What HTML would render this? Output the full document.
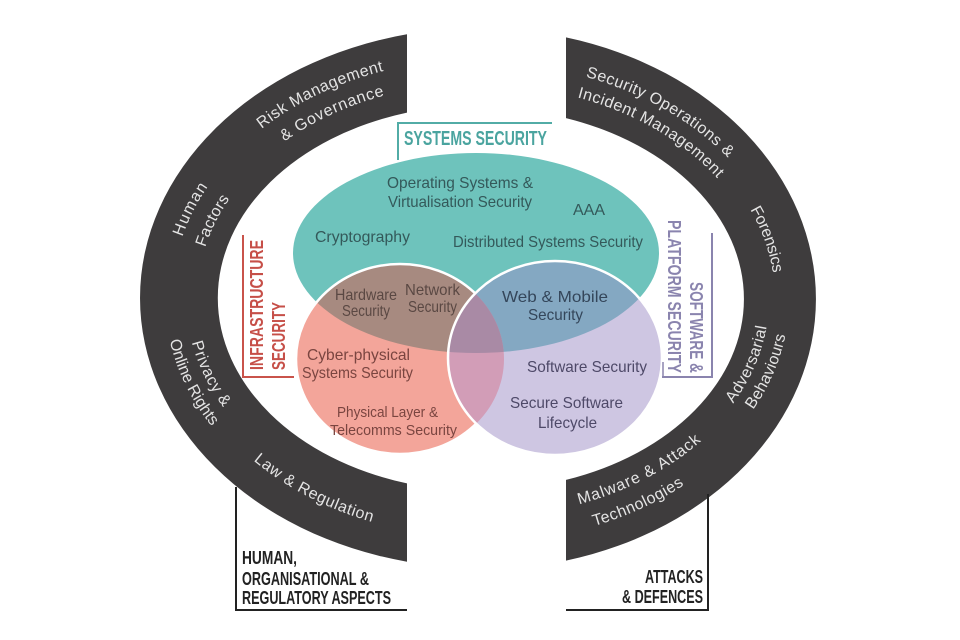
<!DOCTYPE html>
<html><head><meta charset="utf-8"><style>
html,body{margin:0;padding:0;background:#fff;}
svg{display:block;}
.arc{font-family:"Liberation Sans",sans-serif;font-size:16px;fill:#e4e4e4;}
.v{font-family:"Liberation Sans",sans-serif;font-size:16px;}
.b{font-family:"Liberation Sans Narrow","Liberation Sans",sans-serif;font-weight:bold;}
</style></head><body>
<svg width="960" height="640" viewBox="0 0 960 640" xmlns="http://www.w3.org/2000/svg">
<defs>
<clipPath id="cr"><ellipse cx="400" cy="359" rx="104" ry="95"/></clipPath>
<clipPath id="cp"><ellipse cx="555" cy="358" rx="107" ry="97"/></clipPath>
<path id="p1" d="M231.6,155.8 A309,239 0 0 1 423.7,63"/>
<path id="p2" d="M249.4,171.6 A285,215 0 0 1 430.5,86.3"/>
<path id="p3" d="M172.1,303 A308,238 0 0 1 254,136.3"/>
<path id="p4" d="M197.2,305.4 A283,213 0 0 1 269.7,155.5"/>
<path id="p5" d="M186.2,289 A294,224 0 0 0 260.5,447"/>
<path id="p6" d="M165.2,290.3 A315,245 0 0 0 246.6,462.6"/>
<path id="p7" d="M222.9,430.6 A309,239 0 0 0 414.2,531.5"/>
<path id="p8" d="M560.9,70.9 A307,236 0 0 1 744.9,177.1"/>
<path id="p9" d="M560.5,93.3 A285,214 0 0 1 728.8,192"/>
<path id="p10" d="M716.9,166.3 A293,222 0 0 1 772.6,327.2"/>
<path id="p11" d="M703.4,436.4 A287,216 0 0 0 768.1,282"/>
<path id="p12" d="M717.9,450.1 A307,236 0 0 0 788.2,281.7"/>
<path id="p13" d="M547.5,511.3 A289,218 0 0 0 724.6,417.4"/>
<path id="p14" d="M532.2,538.9 A314,243 0 0 0 733.4,444.6"/>
</defs>

<!-- dark arcs -->
<path d="M407,34.3 A340,270 0 0 0 407,561.7 L407,483.4 A262,193 0 0 1 407,112.6 Z" fill="#3e3c3d"/>
<path d="M566,37.4 A334,270.3 0 0 1 566,560.6 L566,479.9 A262,191 0 0 0 566,118.1 Z" fill="#3e3c3d"/>

<!-- arc labels -->
<g class="arc" text-anchor="middle">
<text letter-spacing="0.5"><textPath href="#p1" startOffset="50%">Risk Management</textPath></text>
<text letter-spacing="0.75"><textPath href="#p2" startOffset="50%">&amp; Governance</textPath></text>
<text letter-spacing="1.2"><textPath href="#p3" startOffset="50%">Human</textPath></text>
<text letter-spacing="0.2"><textPath href="#p4" startOffset="50%">Factors</textPath></text>
<text letter-spacing="0.6"><textPath href="#p5" startOffset="50%">Privacy &amp;</textPath></text>
<text><textPath href="#p6" startOffset="50%">Online Rights</textPath></text>
<text letter-spacing="0.6"><textPath href="#p7" startOffset="50%">Law &amp; Regulation</textPath></text>
<text letter-spacing="0.5"><textPath href="#p8" startOffset="50%">Security Operations &amp;</textPath></text>
<text letter-spacing="0.55"><textPath href="#p9" startOffset="50%">Incident Management</textPath></text>
<text letter-spacing="-0.2"><textPath href="#p10" startOffset="50%">Forensics</textPath></text>
<text letter-spacing="0.45"><textPath href="#p11" startOffset="50%">Adversarial</textPath></text>
<text letter-spacing="0.2"><textPath href="#p12" startOffset="50%">Behaviours</textPath></text>
<text letter-spacing="1.0"><textPath href="#p13" startOffset="50%">Malware &amp; Attack</textPath></text>
<text letter-spacing="0.5"><textPath href="#p14" startOffset="50%">Technologies</textPath></text>
</g>

<!-- venn -->
<ellipse cx="476" cy="253" rx="183" ry="100" fill="#6ec3bc"/>
<ellipse cx="400" cy="359" rx="104" ry="95" fill="#f3a59a"/>
<ellipse cx="476" cy="253" rx="183" ry="100" fill="#a78a80" clip-path="url(#cr)"/>
<ellipse cx="400" cy="359" rx="104" ry="95" fill="none" stroke="#fff" stroke-width="2.5"/>
<ellipse cx="555" cy="358" rx="107" ry="97" fill="#cec6e2"/>
<ellipse cx="476" cy="253" rx="183" ry="100" fill="#84a8c2" clip-path="url(#cp)"/>
<ellipse cx="400" cy="359" rx="104" ry="95" fill="#d29db7" clip-path="url(#cp)"/>
<g clip-path="url(#cp)"><ellipse cx="476" cy="253" rx="183" ry="100" fill="#a98aa5" clip-path="url(#cr)"/></g>
<ellipse cx="555" cy="358" rx="107" ry="97" fill="none" stroke="#fff" stroke-width="2.5"/>

<!-- venn texts -->
<g class="v" fill="#34595a">
<text x="387" y="188" textLength="146" lengthAdjust="spacingAndGlyphs">Operating Systems &amp;</text>
<text x="388" y="207" textLength="144" lengthAdjust="spacingAndGlyphs">Virtualisation Security</text>
<text x="573" y="215" textLength="32" lengthAdjust="spacingAndGlyphs">AAA</text>
<text x="315" y="242" textLength="95" lengthAdjust="spacingAndGlyphs">Cryptography</text>
<text x="453" y="247" textLength="190" lengthAdjust="spacingAndGlyphs">Distributed Systems Security</text>
</g>
<g class="v" fill="#5a4843" font-size="15">
<text x="335" y="300" textLength="62" lengthAdjust="spacingAndGlyphs">Hardware</text>
<text x="342" y="316" textLength="48" lengthAdjust="spacingAndGlyphs">Security</text>
<text x="405" y="295" textLength="55" lengthAdjust="spacingAndGlyphs">Network</text>
<text x="408" y="312" textLength="49" lengthAdjust="spacingAndGlyphs">Security</text>
</g>
<g class="v" fill="#7a4540">
<text x="307" y="360" textLength="103" lengthAdjust="spacingAndGlyphs">Cyber-physical</text>
<text x="302" y="378" textLength="111" lengthAdjust="spacingAndGlyphs">Systems Security</text>
<text x="337" y="417" textLength="101" lengthAdjust="spacingAndGlyphs" font-size="15">Physical Layer &amp;</text>
<text x="330" y="435" textLength="127" lengthAdjust="spacingAndGlyphs" font-size="15">Telecomms Security</text>
</g>
<g class="v" fill="#34465a">
<text x="502" y="302" textLength="106" lengthAdjust="spacingAndGlyphs">Web &amp; Mobile</text>
<text x="528" y="320" textLength="55" lengthAdjust="spacingAndGlyphs">Security</text>
</g>
<g class="v" fill="#4e4968">
<text x="527" y="372" textLength="120" lengthAdjust="spacingAndGlyphs">Software Security</text>
<text x="510" y="408" textLength="113" lengthAdjust="spacingAndGlyphs">Secure Software</text>
<text x="538" y="428" textLength="59" lengthAdjust="spacingAndGlyphs">Lifecycle</text>
</g>

<!-- brackets -->
<path d="M398,160 L398,123 L552,123" fill="none" stroke="#52aca6" stroke-width="2"/>
<text class="b" x="404" y="145" font-size="20" fill="#4aa49f" textLength="143" lengthAdjust="spacingAndGlyphs">SYSTEMS SECURITY</text>

<path d="M243,235 L243,377 L294,377" fill="none" stroke="#c9534b" stroke-width="2"/>
<g class="b" font-size="18" fill="#c64f48">
<text transform="translate(263,370) rotate(-90)" textLength="130" lengthAdjust="spacingAndGlyphs">INFRASTRUCTURE</text>
<text transform="translate(285,370) rotate(-90)" textLength="68" lengthAdjust="spacingAndGlyphs">SECURITY</text>
</g>

<path d="M712,233 L712,377 L662,377" fill="none" stroke="#8a84ae" stroke-width="2"/>
<path d="M663,362 L663,377" fill="none" stroke="#8a84ae" stroke-width="1.5"/>
<g class="b" font-size="18" fill="#8a84ae" text-anchor="end">
<text transform="translate(690,373) rotate(90)" textLength="91" lengthAdjust="spacingAndGlyphs">SOFTWARE &amp;</text>
<text transform="translate(668,373) rotate(90)" textLength="153" lengthAdjust="spacingAndGlyphs">PLATFORM SECURITY</text>
</g>

<path d="M236,487 L236,610 L407,610" fill="none" stroke="#222" stroke-width="2"/>
<g class="b" font-size="18" fill="#222">
<text x="242" y="564" textLength="55" lengthAdjust="spacingAndGlyphs">HUMAN,</text>
<text x="242" y="585" textLength="127" lengthAdjust="spacingAndGlyphs">ORGANISATIONAL &amp;</text>
<text x="242" y="604" textLength="149" lengthAdjust="spacingAndGlyphs">REGULATORY ASPECTS</text>
</g>

<path d="M708,494 L708,610 L566,610" fill="none" stroke="#222" stroke-width="2"/>
<g class="b" font-size="18" fill="#222" text-anchor="end">
<text x="703" y="583" textLength="58" lengthAdjust="spacingAndGlyphs">ATTACKS</text>
<text x="703" y="603" textLength="81" lengthAdjust="spacingAndGlyphs">&amp; DEFENCES</text>
</g>
</svg>
</body></html>
